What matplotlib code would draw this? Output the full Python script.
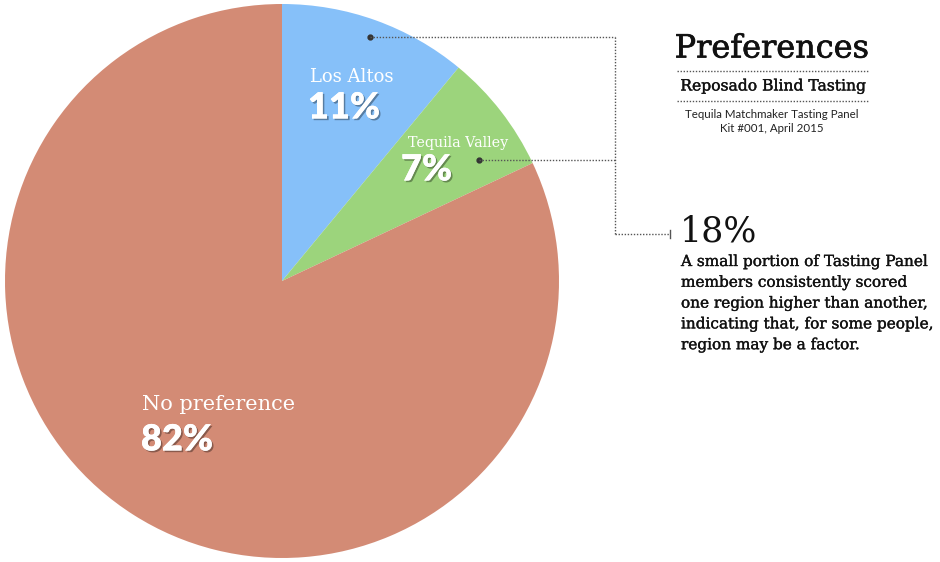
import numpy as np
import matplotlib
matplotlib.use("Agg")
import matplotlib.pyplot as plt
import matplotlib.patheffects as pe

# ---- data ----
categories = ["Los Altos", "Tequila Valley", "No preference"]
values = [11, 7, 82]
colors = ["#86C0F9", "#9CD47C", "#D38B75"]
title = "Preferences"
subtitle = "Reposado Blind Tasting"
source_lines = ["Tequila Matchmaker Tasting Panel", "Kit #001, April 2015"]
callout_value = "18%"
callout_text = ["A small portion of Tasting Panel",
                "members consistently scored",
                "one region higher than another,",
                "indicating that, for some people,",
                "region may be a factor."]

W, H = 940, 562
fig = plt.figure(figsize=(W / 100, H / 100), dpi=100)
ax = fig.add_axes([0, 0, 1, 1])

def Y(y):
    return H - y

cx, cy, R = 282, Y(281), 277
wedges, _ = ax.pie(values, colors=colors, startangle=90, counterclock=False,
                   center=(cx, cy), radius=R,
                   wedgeprops=dict(linewidth=0))
ax.set_xlim(0, W)
ax.set_ylim(0, H)
ax.set_aspect("equal")
ax.axis("off")

serif = "DejaVu Serif"
sans_bold = "Lato"
shadow = [pe.withSimplePatchShadow(offset=(1.2, -1.2), shadow_rgbFace="#000000", alpha=0.35),
          pe.Normal()]

def heavy(col, w=0.5):
    return [pe.withStroke(linewidth=w, foreground=col)]

# label positions (text layout)
label_pos = [(310, 77, 13), (408, 143, 10.3), (142, 404, 15)]
pct_pos = [(308, 108), (401, 170), (141, 440)]
for name, v, (lx, ly, fs), (px, py) in zip(categories, values, label_pos, pct_pos):
    ax.text(lx, Y(ly), name, color="white", fontsize=fs, family=serif,
            ha="left", va="center")
    ax.text(px, Y(py), f"{v}%", color="white", fontsize=26, family=sans_bold,
            weight="heavy", ha="left", va="center", path_effects=shadow)

# connector dots derived from wedge geometry
def wedge_point(w, frac_angle, frac_r):
    t = np.deg2rad(w.theta1 + (w.theta2 - w.theta1) * frac_angle)
    return cx + R * frac_r * np.cos(t), cy + R * frac_r * np.sin(t)

lc = "#555555"
ls = (0, (1, 1.2))
xv = 615
p1 = wedge_point(wedges[0], 0.5, 0.935)
p2 = wedge_point(wedges[1], 0.25, 0.835)
for p in (p1, p2):
    ax.plot([p[0]], [p[1]], "o", color="#333333", ms=3.5)
    ax.plot([p[0], xv], [p[1], p[1]], color=lc, lw=1, ls=ls)
ax.plot([xv, xv], [p1[1], Y(234)], color=lc, lw=1, ls=ls)
ax.plot([xv, 669], [Y(234), Y(234)], color=lc, lw=1, ls=ls)
ax.plot([669.5, 669.5], [Y(230), Y(238)], color=lc, lw=1)

# title block
tx = 772
ink = "#111111"
ax.text(tx, Y(49), title, fontsize=23, family=serif, ha="center", va="center", color=ink,
        path_effects=heavy(ink, 0.5))
ax.plot([677, 868], [Y(71), Y(71)], color=lc, lw=1, ls=ls)
ax.text(tx, Y(86), subtitle, fontsize=11.2, family=serif, ha="center", va="center", color=ink,
        path_effects=heavy(ink, 0.25))
ax.plot([677, 868], [Y(101), Y(101)], color=lc, lw=1, ls=ls)
ax.text(tx, Y(114), source_lines[0], fontsize=8.3, family="Lato", ha="center", va="center", color="#222222")
ax.text(tx, Y(129), source_lines[1], fontsize=8.3, family="Lato", ha="center", va="center", color="#222222")

# callout
ax.text(680, Y(232), callout_value, fontsize=25, family=serif, ha="left", va="center", color=ink)
for i, line in enumerate(callout_text):
    ax.text(681, Y(262 + i * 20.8), line, fontsize=11, family=serif, ha="left",
            va="center", color=ink, path_effects=heavy(ink, 0.25))

fig.savefig("out.png", dpi=100)
